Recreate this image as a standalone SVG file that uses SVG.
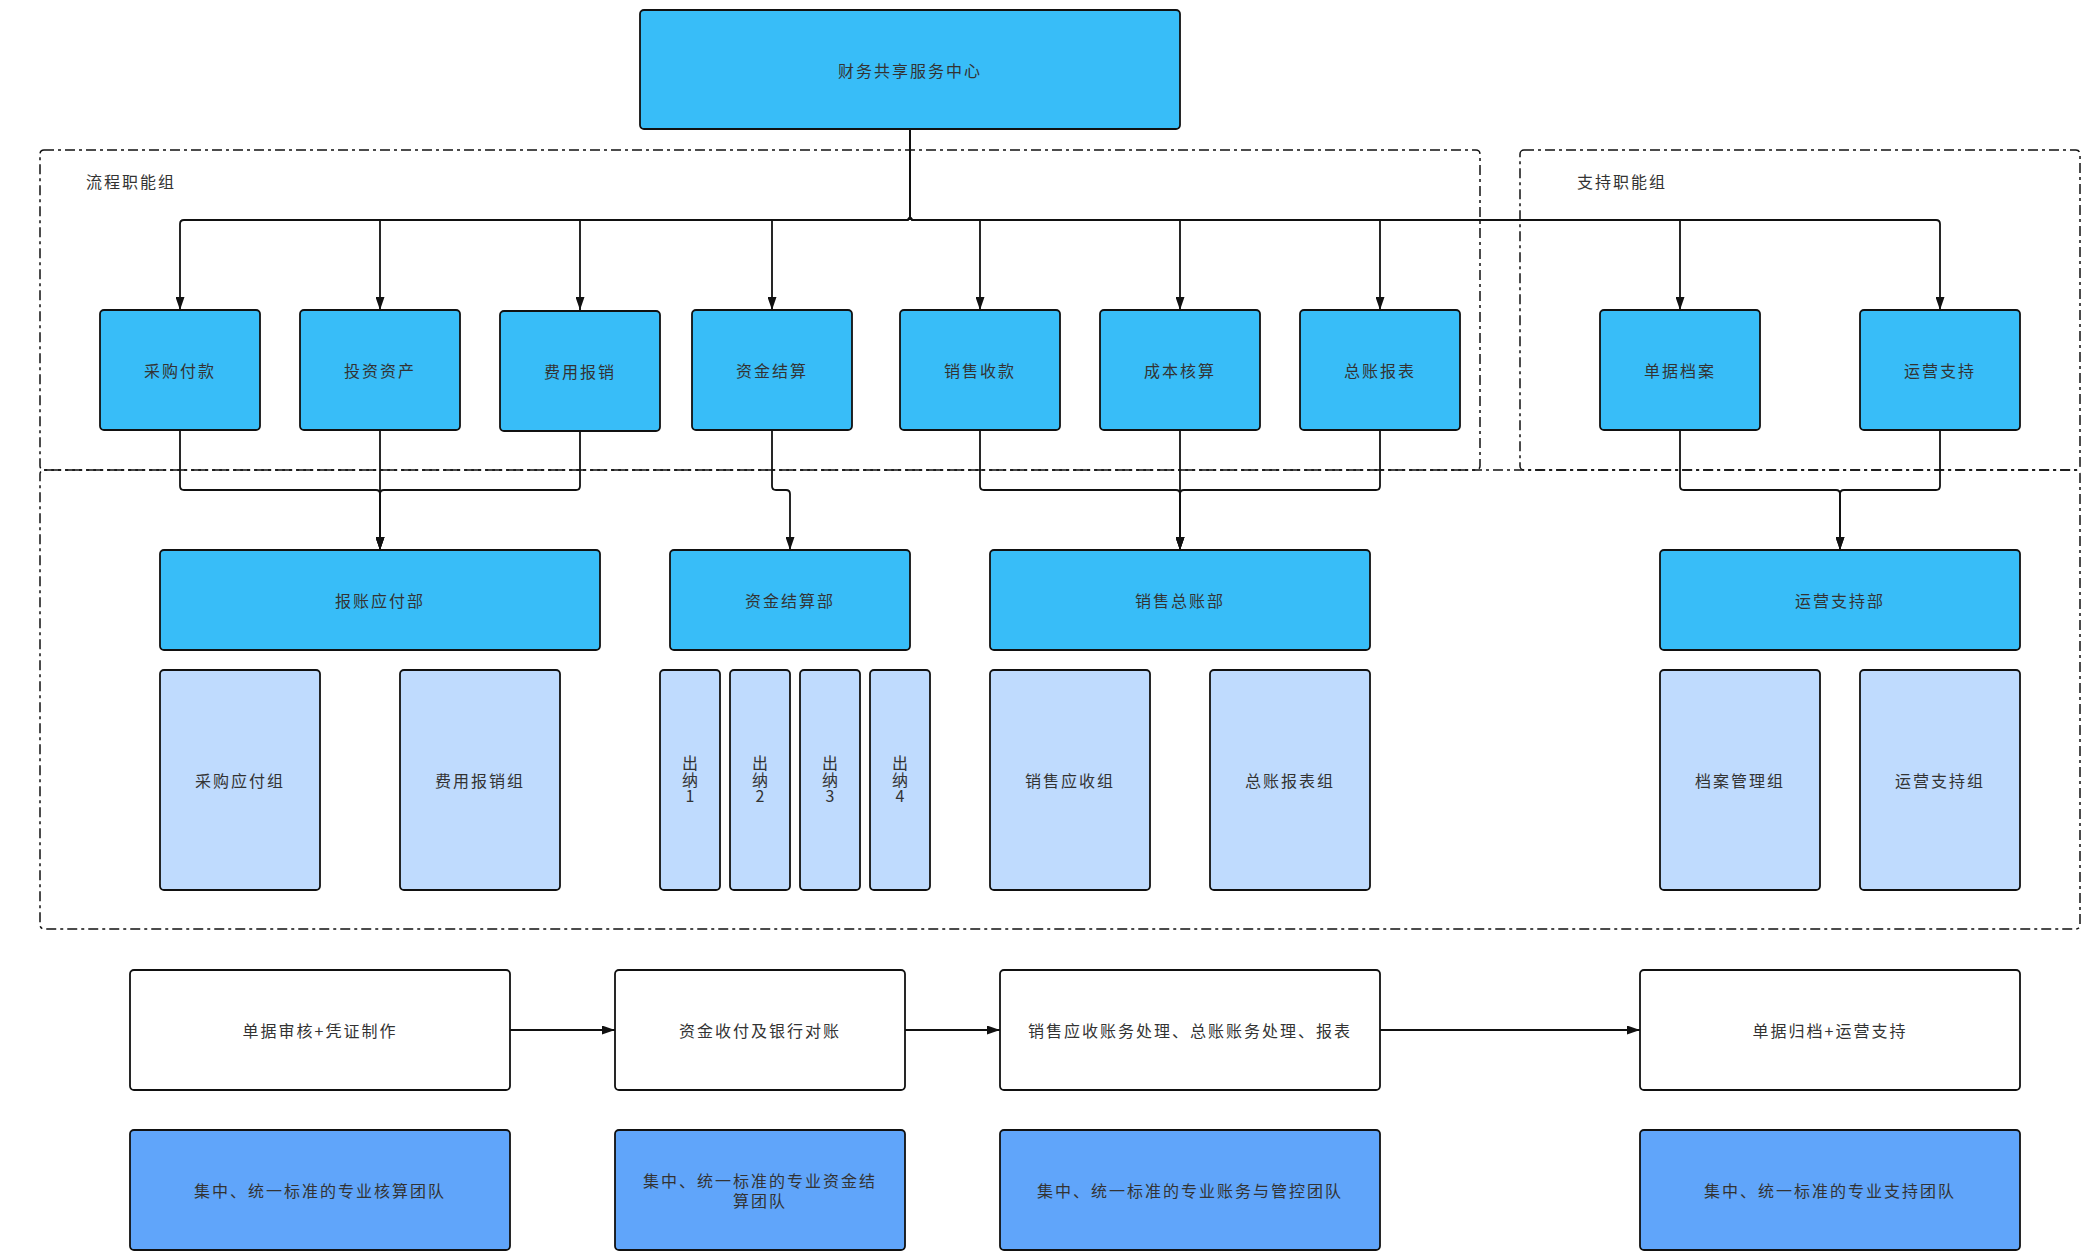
<svg xmlns="http://www.w3.org/2000/svg" width="2089" height="1260" viewBox="0 0 2089 1260">
<style>
text{font-family:"Noto Sans CJK SC","Noto Sans",sans-serif;font-size:16px;letter-spacing:2px;fill:#333;text-anchor:middle;dominant-baseline:central}
.lbl{text-anchor:start}
.vt{writing-mode:vertical-rl;text-orientation:upright;letter-spacing:0.7px}
.b1{fill:#38BDF8;stroke:#111;stroke-width:1.8}
.b2{fill:#BFDBFE;stroke:#111;stroke-width:1.8}
.b3{fill:#FFFFFF;stroke:#111;stroke-width:1.8}
.b4{fill:#60A5FA;stroke:#111;stroke-width:1.8}
.grp{fill:none;stroke:#111;stroke-width:1.5;stroke-dasharray:10 4 3 4}
.c{fill:none;stroke:#111;stroke-width:1.8}
.a{marker-end:url(#arr)}
</style>
<defs>
<marker id="arr" viewBox="0 0 13 9" refX="13" refY="4.5" markerWidth="13" markerHeight="9" markerUnits="userSpaceOnUse" orient="auto">
<path d="M0,0 L13,4.5 L0,9 Z" fill="#111"/>
</marker>
</defs>
<rect width="2089" height="1260" fill="#fff"/>

<g id="groups">
<rect class="grp" x="40" y="150" width="1440" height="320" rx="4"/>
<rect class="grp" x="1520" y="150" width="560" height="320" rx="4"/>
<rect class="grp" x="40" y="470" width="2040" height="459" rx="4"/>
<text class="lbl" x="86" y="181">流程职能组</text>
<text class="lbl" x="1577" y="181">支持职能组</text>
</g>

<g id="connectors">
<path class="c a" d="M910,129 V216 Q910,220 906,220 H184 Q180,220 180,224 V310"/>
<path class="c a" d="M910,129 V216 Q910,220 906,220 H380 V310"/>
<path class="c a" d="M910,129 V216 Q910,220 906,220 H580 V310"/>
<path class="c a" d="M910,129 V216 Q910,220 906,220 H772 V310"/>
<path class="c a" d="M910,129 V216 Q910,220 914,220 H980 V310"/>
<path class="c a" d="M910,129 V216 Q910,220 914,220 H1180 V310"/>
<path class="c a" d="M910,129 V216 Q910,220 914,220 H1380 V310"/>
<path class="c a" d="M910,129 V216 Q910,220 914,220 H1680 V310"/>
<path class="c a" d="M910,129 V216 Q910,220 914,220 H1936 Q1940,220 1940,224 V310"/>

<path class="c a" d="M180,430 V486 Q180,490 184,490 H376 Q380,490 380,494 V550"/>
<path class="c a" d="M380,430 V550"/>
<path class="c a" d="M580,430 V486 Q580,490 576,490 H384 Q380,490 380,494 V550"/>

<path class="c a" d="M772,430 V486 Q772,490 776,490 H786 Q790,490 790,494 V550"/>

<path class="c a" d="M980,430 V486 Q980,490 984,490 H1176 Q1180,490 1180,494 V550"/>
<path class="c a" d="M1180,430 V550"/>
<path class="c a" d="M1380,430 V486 Q1380,490 1376,490 H1184 Q1180,490 1180,494 V550"/>

<path class="c a" d="M1680,430 V486 Q1680,490 1684,490 H1836 Q1840,490 1840,494 V550"/>
<path class="c a" d="M1940,430 V486 Q1940,490 1936,490 H1844 Q1840,490 1840,494 V550"/>

<path class="c a" d="M510,1030 H615"/>
<path class="c a" d="M905,1030 H1000"/>
<path class="c a" d="M1380,1030 H1640"/>
</g>

<g id="n-center"><rect class="b1" x="640" y="10" width="540" height="119" rx="4"/><text x="910" y="70">财务共享服务中心</text></g>

<g id="n-cgfk"><rect class="b1" x="100" y="310" width="160" height="120" rx="4"/><text x="180" y="370">采购付款</text></g>
<g id="n-tzzc"><rect class="b1" x="300" y="310" width="160" height="120" rx="4"/><text x="380" y="370">投资资产</text></g>
<g id="n-fybx"><rect class="b1" x="500" y="311" width="160" height="120" rx="4"/><text x="580" y="371">费用报销</text></g>
<g id="n-zjjs"><rect class="b1" x="692" y="310" width="160" height="120" rx="4"/><text x="772" y="370">资金结算</text></g>
<g id="n-xssk"><rect class="b1" x="900" y="310" width="160" height="120" rx="4"/><text x="980" y="370">销售收款</text></g>
<g id="n-cbhs"><rect class="b1" x="1100" y="310" width="160" height="120" rx="4"/><text x="1180" y="370">成本核算</text></g>
<g id="n-zzbb"><rect class="b1" x="1300" y="310" width="160" height="120" rx="4"/><text x="1380" y="370">总账报表</text></g>
<g id="n-djda"><rect class="b1" x="1600" y="310" width="160" height="120" rx="4"/><text x="1680" y="370">单据档案</text></g>
<g id="n-yyzc"><rect class="b1" x="1860" y="310" width="160" height="120" rx="4"/><text x="1940" y="370">运营支持</text></g>

<g id="n-bzyfb"><rect class="b1" x="160" y="550" width="440" height="100" rx="4"/><text x="380" y="600">报账应付部</text></g>
<g id="n-zjjsb"><rect class="b1" x="670" y="550" width="240" height="100" rx="4"/><text x="790" y="600">资金结算部</text></g>
<g id="n-xszzb"><rect class="b1" x="990" y="550" width="380" height="100" rx="4"/><text x="1180" y="600">销售总账部</text></g>
<g id="n-yyzcb"><rect class="b1" x="1660" y="550" width="360" height="100" rx="4"/><text x="1840" y="600">运营支持部</text></g>

<g id="n-cgyfz"><rect class="b2" x="160" y="670" width="160" height="220" rx="4"/><text x="240" y="780">采购应付组</text></g>
<g id="n-fybxz"><rect class="b2" x="400" y="670" width="160" height="220" rx="4"/><text x="480" y="780">费用报销组</text></g>
<g id="n-cn1"><rect class="b2" x="660" y="670" width="60" height="220" rx="4"/><text class="vt" x="690" y="780">出纳1</text></g>
<g id="n-cn2"><rect class="b2" x="730" y="670" width="60" height="220" rx="4"/><text class="vt" x="760" y="780">出纳2</text></g>
<g id="n-cn3"><rect class="b2" x="800" y="670" width="60" height="220" rx="4"/><text class="vt" x="830" y="780">出纳3</text></g>
<g id="n-cn4"><rect class="b2" x="870" y="670" width="60" height="220" rx="4"/><text class="vt" x="900" y="780">出纳4</text></g>
<g id="n-xsysz"><rect class="b2" x="990" y="670" width="160" height="220" rx="4"/><text x="1070" y="780">销售应收组</text></g>
<g id="n-zzbbz"><rect class="b2" x="1210" y="670" width="160" height="220" rx="4"/><text x="1290" y="780">总账报表组</text></g>
<g id="n-daglz"><rect class="b2" x="1660" y="670" width="160" height="220" rx="4"/><text x="1740" y="780">档案管理组</text></g>
<g id="n-yyzcz"><rect class="b2" x="1860" y="670" width="160" height="220" rx="4"/><text x="1940" y="780">运营支持组</text></g>

<g id="n-p1"><rect class="b3" x="130" y="970" width="380" height="120" rx="4"/><text x="320" y="1030">单据审核+凭证制作</text></g>
<g id="n-p2"><rect class="b3" x="615" y="970" width="290" height="120" rx="4"/><text x="760" y="1030">资金收付及银行对账</text></g>
<g id="n-p3"><rect class="b3" x="1000" y="970" width="380" height="120" rx="4"/><text x="1190" y="1030">销售应收账务处理、总账账务处理、报表</text></g>
<g id="n-p4"><rect class="b3" x="1640" y="970" width="380" height="120" rx="4"/><text x="1830" y="1030">单据归档+运营支持</text></g>

<g id="n-t1"><rect class="b4" x="130" y="1130" width="380" height="120" rx="4"/><text x="320" y="1190">集中、统一标准的专业核算团队</text></g>
<g id="n-t2"><rect class="b4" x="615" y="1130" width="290" height="120" rx="4"/><text x="760" y="1180">集中、统一标准的专业资金结</text><text x="760" y="1200">算团队</text></g>
<g id="n-t3"><rect class="b4" x="1000" y="1130" width="380" height="120" rx="4"/><text x="1190" y="1190">集中、统一标准的专业账务与管控团队</text></g>
<g id="n-t4"><rect class="b4" x="1640" y="1130" width="380" height="120" rx="4"/><text x="1830" y="1190">集中、统一标准的专业支持团队</text></g>
</svg>
